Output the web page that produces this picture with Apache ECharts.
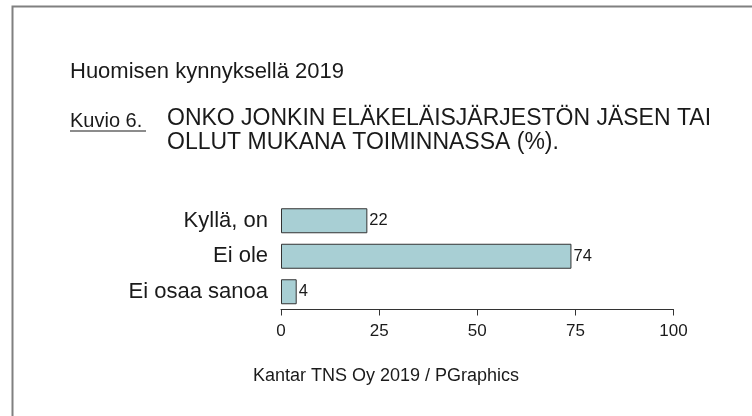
<!DOCTYPE html>
<html>
<head>
<meta charset="utf-8">
<script src="https://cdn.jsdelivr.net/npm/echarts@6/dist/echarts.min.js"></script>
<style>
html,body{margin:0;padding:0;background:#fff;}
#chart{width:752px;height:416px;}
</style>
</head>
<body>
<div id="chart"></div>
<script>
const categories = ['Kyllä, on', 'Ei ole', 'Ei osaa sanoa'];
const values = [22, 74, 4];
const xTicks = [0, 25, 50, 75, 100];

const FONT = '"Liberation Sans", Arial, Helvetica, sans-serif';
const chart = echarts.init(document.getElementById('chart'), null, {renderer: 'canvas'});

chart.setOption({
  backgroundColor: '#ffffff',
  animation: false,
  title: [
    {text: 'Huomisen kynnyksellä 2019', left: 70, top: 61, padding: 0,
     textStyle: {fontFamily: FONT, fontSize: 22, fontWeight: 'normal', color: '#1a1a1a'}},
    {text: 'Kuvio 6.', left: 70, top: 111, padding: 0,
     textStyle: {fontFamily: FONT, fontSize: 20, fontWeight: 'normal', color: '#1a1a1a'}},
    {text: 'ONKO JONKIN ELÄKELÄISJÄRJESTÖN JÄSEN TAI\nOLLUT MUKANA TOIMINNASSA (%).', left: 167, top: 107, padding: 0,
     textStyle: {fontFamily: FONT, fontSize: 23, fontWeight: 'normal', color: '#1a1a1a', lineHeight: 24}},
    {text: 'Kantar TNS Oy 2019 / PGraphics', left: 386, top: 367, textAlign: 'center', padding: 0,
     textStyle: {fontFamily: FONT, fontSize: 18, fontWeight: 'normal', color: '#1a1a1a'}}
  ],
  graphic: [
    {type: 'polyline', shape: {points: [[12.5, 420], [12.5, 6.5], [760, 6.5]]},
     style: {stroke: '#808080', lineWidth: 2, fill: null}},
    {type: 'line', shape: {x1: 70, y1: 131, x2: 146, y2: 131},
     style: {stroke: '#1a1a1a', lineWidth: 1.2}}
  ],
  grid: {left: 281, right: 78.5, top: 203, height: 106.5, containLabel: false},
  xAxis: {
    type: 'value', min: xTicks[0], max: xTicks[xTicks.length - 1], interval: xTicks[1] - xTicks[0],
    axisLine: {show: true, lineStyle: {color: '#333', width: 1}},
    axisTick: {show: true, length: 6, lineStyle: {color: '#333'}},
    splitLine: {show: false},
    axisLabel: {fontFamily: FONT, fontSize: 17, color: '#1a1a1a', margin: 13}
  },
  yAxis: {
    type: 'category', data: categories, inverse: true,
    axisLine: {show: false}, axisTick: {show: false}, splitLine: {show: false},
    axisLabel: {fontFamily: FONT, fontSize: 22, color: '#1a1a1a', margin: 13}
  },
  series: [{
    type: 'bar', data: values, barWidth: 25,
    itemStyle: {color: '#a8cfd4', borderColor: '#333', borderWidth: 1},
    label: {show: true, position: 'right', distance: 2, fontFamily: FONT, fontSize: 16.5, color: '#1a1a1a'}
  }]
});
</script>
</body>
</html>
